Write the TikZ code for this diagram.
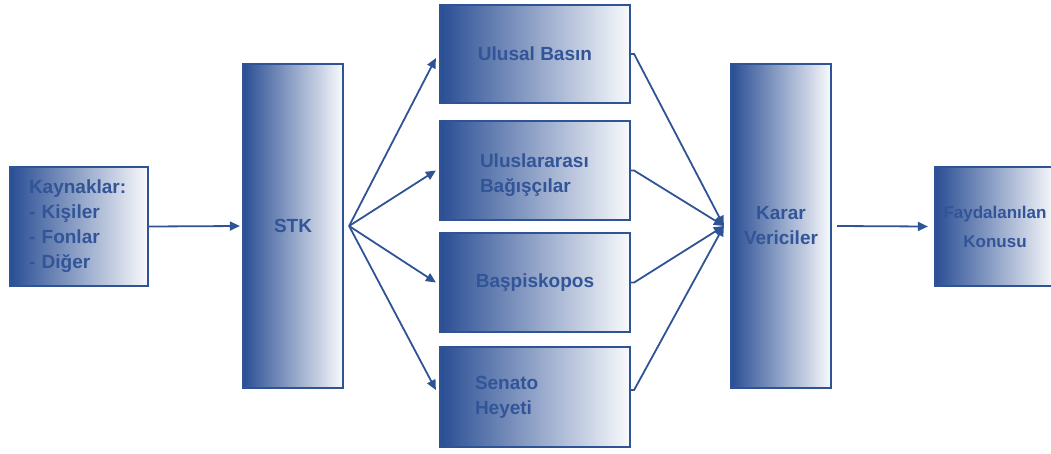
\documentclass[tikz,border=0pt]{standalone}
\usepackage{fontspec}
\setmainfont{Liberation Sans}
\usetikzlibrary{arrows.meta,calc}
\definecolor{boxblue}{RGB}{42,78,148}
\definecolor{txtblue}{RGB}{50,84,152}
\definecolor{lineblue}{RGB}{47,84,150}
\begin{document}
\begin{tikzpicture}[x=1pt,y=-1pt,
  box/.style={draw=lineblue, line width=2.2pt, left color=boxblue,
    right color=white!97!boxblue, text=txtblue,
    font=\bfseries\fontsize{19}{25}\selectfont, inner sep=0pt},
  link/.style={draw=lineblue, line width=1.8pt,
    -{Triangle[length=10pt,width=9pt]}},
  ]
\useasboundingbox (0,0) rectangle (1051,453);
\clip (0,0) rectangle (1051,453);

% sources
\node[box, minimum width=138pt, minimum height=119pt, text width=100pt,
  align=left, inner xsep=19pt] (src) at (79,226.5)
  {Kaynaklar:\\- Kişiler\\- Fonlar\\- Diğer};

% NGO column
\node[box, minimum width=100pt, minimum height=324pt] (stk) at (293,226) {STK};

% intermediary actors
\node[box, minimum width=190pt, minimum height=98pt] (ub) at (535,54) {Ulusal Basın};
\node[box, minimum width=190pt, minimum height=99pt, text width=110pt,
  align=left, inner xsep=40pt, inner ysep=0pt] (ui) at (535,170.5)
  {\rule{0pt}{24pt}Uluslararası\\Bağışçılar};
\node[box, minimum width=190pt, minimum height=99pt] (bp) at (535,282.5) {Başpiskopos};
\node[box, minimum width=190pt, minimum height=100pt, text width=120pt,
  align=left, inner xsep=35pt] (sh) at (535,397)
  {Senato\\Heyeti};

% decision makers
\node[box, minimum width=100pt, minimum height=324pt, align=center] (kv) at (781,226)
  {Karar\\Vericiler};

% outcome
\node[box, minimum width=120pt, minimum height=119pt, align=center,
  font=\bfseries\fontsize{17}{29}\selectfont] (pk) at (995,226.5)
  {Faydalanılan\\Konusu};

% connectors
\draw[link] (src.east) -- ($(stk.west)+(-2,0)$);

\coordinate (fan) at ($(stk.east)+(5,0)$);
\draw[link] (fan) -- ($(ub.west)+(-3,4)$);
\draw[link] (fan) -- ($(ui.west)+(-3,0)$);
\draw[link] (fan) -- ($(bp.west)+(-3,0)$);
\draw[link] (fan) -- ($(sh.west)+(-3,-7)$);

\coordinate (join) at ($(kv.west)+(-6,0)$);
\draw[link] (ub.east) -- ++(3,0) -- (join);
\draw[link] (ui.east) -- ++(3,0) -- (join);
\draw[link] (bp.east) -- ++(3,0) -- (join);
\draw[link] ($(sh.east)+(0,-7)$) -- ++(3,0) -- (join);

\draw[link] ($(kv.east)+(5,0)$) -- ($(pk.west)+(-6,0)$);
\end{tikzpicture}
\end{document}
